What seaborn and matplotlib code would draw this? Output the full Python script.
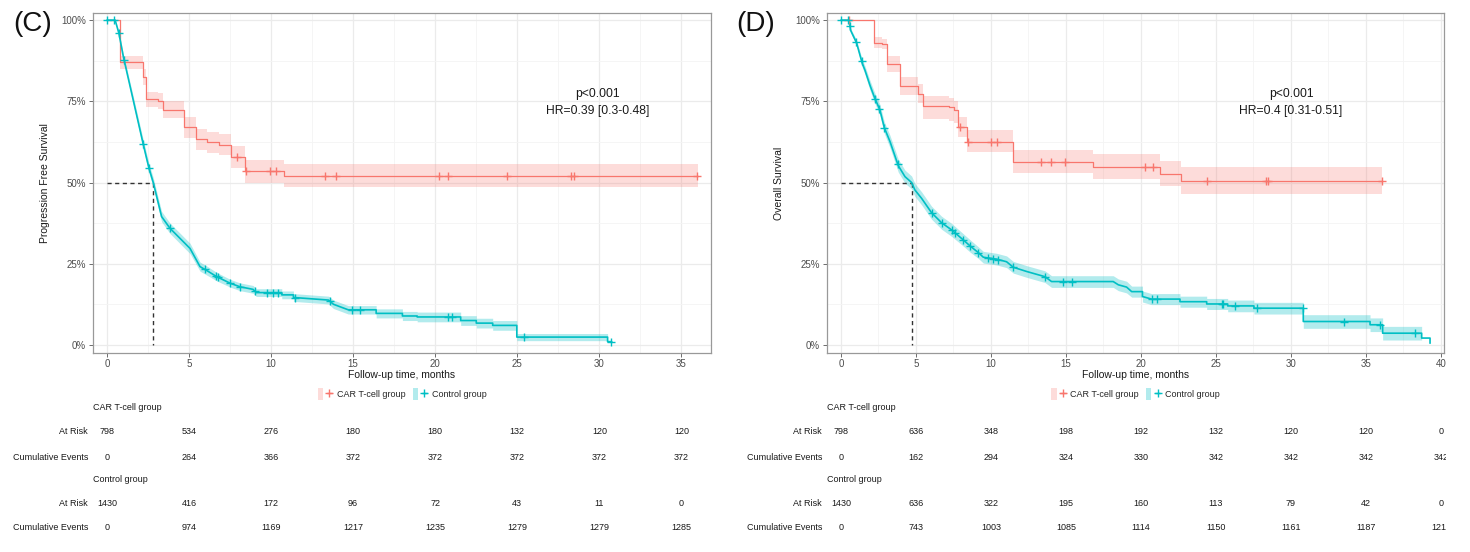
import numpy as np
import pandas as pd
import seaborn as sns
import matplotlib
matplotlib.use("Agg")
import matplotlib.pyplot as plt
from matplotlib.transforms import blended_transform_factory, Bbox, TransformedBbox
from matplotlib.lines import Line2D
from matplotlib.patches import Patch
from matplotlib.legend_handler import HandlerTuple

# ---------------- data ----------------
groups = ["CAR T-cell group", "Control group"]

# Panel C: progression free survival
c_car_t = [0, 0.8, 2.17, 2.4, 3.09, 3.39, 4.72, 5.4, 6.1, 6.83, 7.54, 8.41, 10.8, 36.0]
c_car_s = [1.0, 0.871, 0.826, 0.757, 0.751, 0.723, 0.670, 0.633, 0.624, 0.617, 0.579, 0.534, 0.521, 0.521]
c_car_lo = [1.0, 0.849, 0.80, 0.733, 0.727, 0.698, 0.638, 0.60, 0.59, 0.585, 0.545, 0.50, 0.487, 0.487]
c_car_hi = [1.0, 0.889, 0.85, 0.78, 0.775, 0.751, 0.702, 0.665, 0.656, 0.65, 0.612, 0.568, 0.557, 0.557]
c_car_cens = [7.9, 8.46, 9.94, 10.3, 13.3, 13.96, 20.24, 20.75, 24.37, 28.29, 28.43, 35.96]

c_ctl_t = [0, 0.5, 0.73, 1.0, 1.6, 2.21, 2.56, 2.82, 3.33, 3.84,
           4.45, 5.06, 5.67, 6.08, 6.69, 7.5, 8.1, 8.9, 9.1, 10.65,
           10.65, 11.36, 11.36, 13.5, 13.8, 14.7, 16.4, 16.4, 18.0, 18.0,
           18.9, 18.9, 21.55, 21.55, 22.5, 22.5, 23.5, 23.5, 24.97, 24.97,
           30.5, 30.5, 30.75]
c_ctl_s = [1.0, 1.0, 0.959, 0.887, 0.754, 0.618, 0.544, 0.50, 0.395, 0.359,
           0.328, 0.297, 0.241, 0.229, 0.21, 0.19, 0.179, 0.171, 0.161, 0.161,
           0.154, 0.154, 0.146, 0.138, 0.125, 0.108, 0.108, 0.097, 0.097, 0.089,
           0.089, 0.086, 0.086, 0.075, 0.075, 0.067, 0.067, 0.060, 0.060, 0.024,
           0.024, 0.010, 0.010]
c_ctl_ci = [0, 0, 0.006, 0.009, 0.012, 0.014, 0.015, 0.015, 0.016, 0.016,
            0.016, 0.016, 0.014, 0.014, 0.013, 0.012, 0.012, 0.012, 0.012, 0.012,
            0.012, 0.012, 0.012, 0.012, 0.013, 0.013, 0.013, 0.014, 0.014, 0.014,
            0.014, 0.015, 0.015, 0.015, 0.015, 0.015, 0.015, 0.015, 0.015, 0.011,
            0.011, 0, 0]
c_ctl_cens = [0, 0.45, 0.73, 1.04, 2.21, 2.56, 3.84, 5.97, 6.65, 6.79, 7.5, 8.1, 9.02,
              9.74, 10.14, 10.45, 11.46, 13.6, 14.92, 15.39, 20.75, 21.02, 25.43, 30.71]
c_median = 2.82

# Panel D: overall survival
d_car_t = [0, 2.18, 2.71, 3.09, 3.93, 5.16, 5.45, 7.2, 7.53, 7.78, 8.38, 11.44, 16.78, 21.27, 22.7, 36.05]
d_car_s = [1.0, 0.931, 0.926, 0.864, 0.797, 0.774, 0.737, 0.731, 0.723, 0.670, 0.626, 0.564, 0.547, 0.526, 0.505, 0.505]
d_car_lo = [1.0, 0.915, 0.91, 0.841, 0.769, 0.745, 0.697, 0.69, 0.682, 0.641, 0.595, 0.528, 0.511, 0.489, 0.465, 0.465]
d_car_hi = [1.0, 0.947, 0.942, 0.889, 0.826, 0.803, 0.766, 0.76, 0.752, 0.702, 0.662, 0.60, 0.588, 0.567, 0.549, 0.549]
d_car_cens = [0.55, 7.93, 8.45, 10.0, 10.38, 13.33, 14.0, 14.93, 20.3, 20.8, 24.38, 28.33, 28.49, 36.05]

d_ctl_t = [0, 0.55, 0.64, 1.04, 1.42, 1.6, 1.93, 2.22, 2.6, 2.89,
           3.27, 3.82, 4.27, 4.71, 4.93, 5.38, 6.04, 6.71, 7.38, 8.16,
           8.6, 9.16, 9.49, 10.38, 11.04, 11.49, 12.38, 13.6, 14.04, 18.15,
           18.49, 19.04, 19.38, 20.1, 20.1, 20.7, 22.6, 22.6, 24.38, 24.38,
           25.78, 25.78, 27.53, 27.53, 30.82, 30.82, 35.27, 35.27, 36.11, 36.11,
           38.71, 38.71, 39.27, 39.27]
d_ctl_s = [1.0, 1.0, 0.969, 0.930, 0.867, 0.846, 0.80, 0.764, 0.723, 0.669,
           0.626, 0.552, 0.518, 0.50, 0.477, 0.451, 0.407, 0.376, 0.354, 0.323,
           0.305, 0.284, 0.27, 0.264, 0.256, 0.239, 0.226, 0.21, 0.195, 0.195,
           0.185, 0.178, 0.164, 0.164, 0.149, 0.141, 0.141, 0.133, 0.133, 0.126,
           0.126, 0.12, 0.12, 0.113, 0.113, 0.072, 0.072, 0.062, 0.062, 0.036,
           0.036, 0.021, 0.021, 0.005]
d_ctl_ci = [0, 0, 0.006, 0.009, 0.012, 0.013, 0.015, 0.016, 0.017, 0.018,
            0.019, 0.02, 0.02, 0.02, 0.02, 0.02, 0.02, 0.02, 0.02, 0.019,
            0.019, 0.018, 0.018, 0.018, 0.018, 0.018, 0.018, 0.018, 0.018, 0.018,
            0.018, 0.018, 0.017, 0.017, 0.017, 0.017, 0.017, 0.017, 0.017, 0.017,
            0.017, 0.018, 0.018, 0.018, 0.018, 0.021, 0.021, 0.021, 0.021, 0.021,
            0.021, 0, 0, 0]
d_ctl_cens = [0, 0.44, 0.6, 1.0, 1.38, 2.27, 2.56, 2.89, 3.78, 6.04, 6.71, 7.38, 7.6, 8.16,
              8.6, 9.16, 9.82, 10.16, 10.49, 11.49, 13.6, 14.82, 15.38, 20.71, 21.09,
              25.38, 25.49, 26.27, 27.76, 30.8, 33.53, 35.93, 38.27]
d_median = 4.73

# risk tables
c_times = [0, 5, 10, 15, 20, 25, 30, 35]
c_car_risk = [798, 534, 276, 180, 180, 132, 120, 120]
c_car_events = [0, 264, 366, 372, 372, 372, 372, 372]
c_ctl_risk = [1430, 416, 172, 96, 72, 43, 11, 0]
c_ctl_events = [0, 974, 1169, 1217, 1235, 1279, 1279, 1285]

d_times = [0, 5, 10, 15, 20, 25, 30, 35, 40]
d_car_risk = [798, 636, 348, 198, 192, 132, 120, 120, 0]
d_car_events = [0, 162, 294, 324, 330, 342, 342, 342, 342]
d_ctl_risk = [1430, 636, 322, 195, 160, 113, 79, 42, 0]
d_ctl_events = [0, 743, 1003, 1085, 1114, 1150, 1161, 1187, 1213]

# ---------------- style ----------------
sns.set_theme(style="white")
plt.rcParams["font.family"] = ["Liberation Sans", "DejaVu Sans"]
RED = "#F8766D"
CYAN = "#00BFC4"
TXT = "#1a1a1a"
W, H = 1470, 552
fig = plt.figure(figsize=(W / 100, H / 100), dpi=100)


def fx(px):
    return px / W


def fy(py):
    return 1 - py / H


axC = fig.add_axes([fx(93), fy(353), fx(711) - fx(93), fy(13) - fy(353)])
axD = fig.add_axes([fx(827), fy(353), fx(1444) - fx(827), fy(13) - fy(353)])


def draw_panel(ax, car, ctl, median, xlim, xticks, ylabel, ptxt, letter, letter_x):
    ct, cs, clo, chi, ccens = car
    kt, ks, kci, kcens = ctl
    ct, cs, clo, chi = map(np.asarray, (ct, cs, clo, chi))
    kt, ks, kci = map(np.asarray, (kt, ks, kci))
    # confidence bands
    ax.fill_between(ct, clo, chi, step="post", color=RED, alpha=0.25, lw=0, zorder=1)
    ax.fill_between(kt, ks - kci, ks + kci, color=CYAN, alpha=0.3, lw=0, zorder=1)
    # curves
    df_car = pd.DataFrame({"t": ct, "s": cs})
    df_ctl = pd.DataFrame({"t": kt, "s": ks})
    sns.lineplot(data=df_car, x="t", y="s", estimator=None, sort=False,
                 drawstyle="steps-post", color=RED, lw=0.9, ax=ax, zorder=3)
    sns.lineplot(data=df_ctl, x="t", y="s", estimator=None, sort=False,
                 color=CYAN, lw=1.2, ax=ax, zorder=3)
    # censor marks
    ccens = np.asarray(ccens)
    cy = cs[np.searchsorted(ct, ccens, side="right") - 1]
    ky = np.interp(kcens, kt, ks)
    sns.scatterplot(x=ccens, y=cy, marker="+", s=40, color=RED, linewidth=1.0, ax=ax, zorder=4)
    sns.scatterplot(x=kcens, y=ky, marker="+", s=40, color=CYAN, linewidth=1.0, ax=ax, zorder=4)
    # median lines
    ax.plot([0, median], [0.5, 0.5], ls=(0, (3, 2.5)), color="#333333", lw=1.0, zorder=2)
    ax.plot([median, median], [0.5, 0], ls=(0, (3, 2.5)), color="#333333", lw=1.0, zorder=2)
    # axes
    ax.set_xlim(*xlim)
    ax.set_ylim(-0.025, 1.022)
    ax.set_xticks(xticks)
    ax.set_xticks([x + 2.5 for x in xticks[:-1]] + ([xticks[-1] + 2.5] if xticks[-1] + 2.5 < xlim[1] else []), minor=True)
    ax.set_yticks([0, 0.25, 0.5, 0.75, 1.0])
    ax.set_yticklabels(["0%", "25%", "50%", "75%", "100%"])
    ax.set_yticks([0.125, 0.375, 0.625, 0.875], minor=True)
    ax.grid(which="major", color="#EBEBEB", lw=0.9)
    ax.grid(which="minor", color="#F4F4F4", lw=0.6)
    ax.set_axisbelow(True)
    for sp in ax.spines.values():
        sp.set_color("#999999")
        sp.set_linewidth(0.9)
    ax.tick_params(which="major", length=3, width=0.6, color="#555555",
                   labelsize=7, labelcolor="#4d4d4d", pad=2, bottom=True, left=True)
    ax.tick_params(axis="x", which="major", pad=1.5)
    ax.tick_params(which="minor", length=0)
    ax.set_xlabel("Follow-up time, months", fontsize=7.5, color=TXT)
    ax.set_ylabel(ylabel, fontsize=7.5, color=TXT)
    ax.xaxis.set_label_coords(0.5, -0.05)
    ax.yaxis.set_label_coords(-0.07, 0.5)
    ax.text(ptxt[0], 0.772, "p<0.001", ha="center", va="center", fontsize=8.7, color=TXT)
    ax.text(ptxt[0], 0.72, ptxt[1], ha="center", va="center", fontsize=8.7, color=TXT)
    fig.text(fx(letter_x), fy(24), letter, ha="center", va="center", fontsize=20, color="#111111")


draw_panel(axC, (c_car_t, c_car_s, c_car_lo, c_car_hi, c_car_cens),
           (c_ctl_t, c_ctl_s, c_ctl_ci, c_ctl_cens), c_median,
           (-0.85, 36.8), [0, 5, 10, 15, 20, 25, 30, 35],
           "Progression Free Survival", (29.9, "HR=0.39 [0.3-0.48]"), "(C)", 33)
draw_panel(axD, (d_car_t, d_car_s, d_car_lo, d_car_hi, d_car_cens),
           (d_ctl_t, d_ctl_s, d_ctl_ci, d_ctl_cens), d_median,
           (-0.93, 40.2), [0, 5, 10, 15, 20, 25, 30, 35, 40],
           "Overall Survival", (30.0, "HR=0.4 [0.31-0.51]"), "(D)", 756)

# legends
for ax in (axC, axD):
    pos = ax.get_position()
    handles = [(Patch(facecolor=RED, alpha=0.25, edgecolor="none"),
                Line2D([], [], color=RED, marker="+", lw=1.0, markersize=6)),
               (Patch(facecolor=CYAN, alpha=0.3, edgecolor="none"),
                Line2D([], [], color=CYAN, marker="+", lw=1.0, markersize=6))]
    fig.legend(handles, groups, loc="center", bbox_to_anchor=((pos.x0 + pos.x1) / 2, fy(394)),
               ncol=2, frameon=False, fontsize=6.5, handlelength=1.6, handleheight=1.6,
               handletextpad=0.5, columnspacing=0.8,
               handler_map={tuple: HandlerTuple(ndivide=None)})

# risk tables
clipbox = TransformedBbox(Bbox.from_extents(0, 0, 1446 / W, 1), fig.transFigure)
rows_y = [407, 431, 457, 480, 503, 528]
for ax, times, tabs in ((axC, c_times, (c_car_risk, c_car_events, c_ctl_risk, c_ctl_events)),
                        (axD, d_times, (d_car_risk, d_car_events, d_ctl_risk, d_ctl_events))):
    pos = ax.get_position()
    left_px = pos.x0 * W
    tr = blended_transform_factory(ax.transData, fig.transFigure)
    fig.text(fx(left_px), fy(rows_y[0]), groups[0], ha="left", va="center", fontsize=6.5, color=TXT)
    fig.text(fx(left_px), fy(rows_y[3]), groups[1], ha="left", va="center", fontsize=6.5, color=TXT)
    row_defs = [("At Risk", tabs[0], rows_y[1]), ("Cumulative Events", tabs[1], rows_y[2]),
                ("At Risk", tabs[2], rows_y[4]), ("Cumulative Events", tabs[3], rows_y[5])]
    for lab, vals, yy in row_defs:
        fig.text(fx(left_px - 5), fy(yy), lab, ha="right", va="center", fontsize=6.5, color=TXT)
        for t, v in zip(times, vals):
            txt = fig.text(t, fy(yy), str(v), ha="center", va="center", fontsize=6.5,
                           color=TXT, transform=tr)
            txt.set_clip_box(clipbox)
            txt.set_clip_on(True)

fig.savefig("out.png", dpi=100, facecolor="white")
